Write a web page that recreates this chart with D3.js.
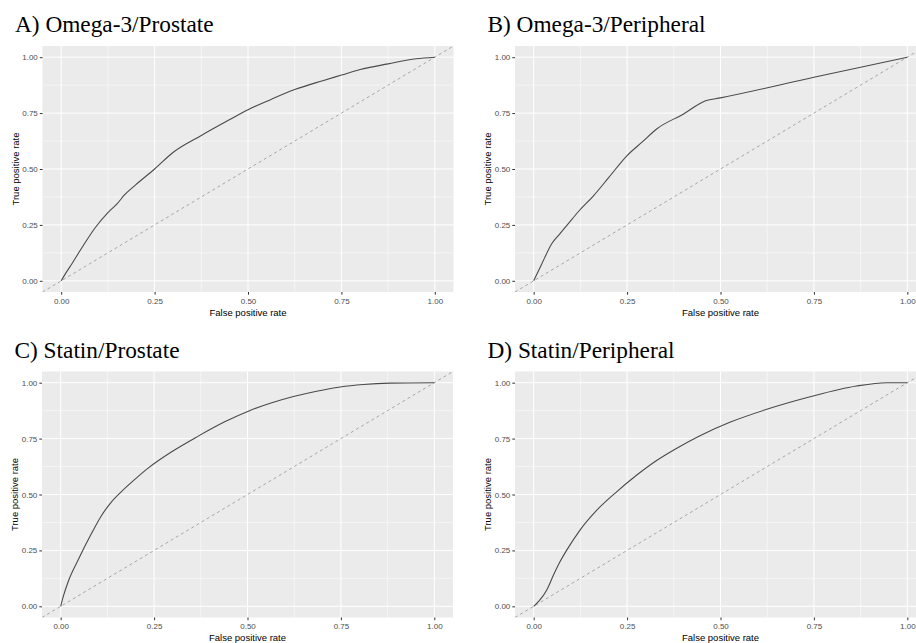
<!DOCTYPE html>
<html>
<head>
<meta charset="utf-8">
<script src="https://cdn.jsdelivr.net/npm/d3@7"></script>
<style>
  body { margin: 0; background: #fff; }
  svg { display: block; }
</style>
</head>
<body>
<div id="chart"></div>
<script>
// tick values shared by both axes of every panel
const ticks = [0, 0.25, 0.5, 0.75, 1];
const minorTicks = [0.125, 0.375, 0.625, 0.875];

const panelTitles = ['A) Omega-3/Prostate', 'B) Omega-3/Peripheral', 'C) Statin/Prostate', 'D) Statin/Peripheral'];

// ROC curves: [false positive rate, true positive rate]
const rocA = [[0,0],[0.007,0.02],[0.03,0.08],[0.06,0.16],[0.09,0.235],[0.125,0.305],[0.15,0.345],[0.17,0.385],[0.2,0.43],
  [0.25,0.5],[0.3,0.575],[0.375,0.65],[0.45,0.72],[0.5,0.765],[0.56,0.81],[0.625,0.855],[0.7,0.895],[0.75,0.92],
  [0.8,0.945],[0.875,0.97],[0.95,0.993],[1,1]];
const rocB = [[0,0],[0.02,0.07],[0.05,0.17],[0.07,0.21],[0.09,0.25],[0.12,0.31],[0.16,0.38],[0.2,0.46],[0.25,0.56],
  [0.29,0.62],[0.33,0.68],[0.4,0.745],[0.46,0.805],[0.5,0.818],[0.75,0.91],[1,1]];
const rocC = [[0,0],[0.008,0.05],[0.02,0.11],[0.046,0.205],[0.082,0.324],[0.109,0.405],[0.135,0.465],[0.162,0.512],
  [0.2,0.57],[0.234,0.618],[0.296,0.69],[0.367,0.76],[0.439,0.825],[0.507,0.876],[0.565,0.91],[0.623,0.938],
  [0.685,0.962],[0.748,0.981],[0.81,0.992],[0.881,0.998],[1,1]];
const rocD = [[0,0],[0.015,0.025],[0.035,0.073],[0.053,0.14],[0.07,0.198],[0.088,0.25],[0.124,0.341],[0.169,0.43],
  [0.222,0.512],[0.276,0.587],[0.329,0.652],[0.383,0.707],[0.445,0.763],[0.525,0.823],[0.624,0.881],[0.74,0.937],
  [0.864,0.985],[0.945,1],[1,1]];

const W = 916, H = 643;
const pw = 411, ph = 246;

// panel placement
const panels = [
  { title: panelTitles[0], data: rocA, left: 42.5, top: 46 },
  { title: panelTitles[1], data: rocB, left: 515, top: 46 },
  { title: panelTitles[2], data: rocC, left: 42, top: 371.5 },
  { title: panelTitles[3], data: rocD, left: 515, top: 371.5 }
];

const svg = d3.select('#chart').append('svg')
  .attr('width', W)
  .attr('height', H);

panels.forEach((p, i) => {
  const x = d3.scaleLinear().domain([-0.05, 1.05]).range([p.left, p.left + pw]);
  const y = d3.scaleLinear().domain([-0.05, 1.05]).range([p.top + ph, p.top]);

  const g = svg.append('g').attr('class', 'panel');

  // title
  svg.append('text')
    .attr('x', p.left - 27.5)
    .attr('y', p.top - 14)
    .style('font-family', '"Liberation Serif", "Times New Roman", serif')
    .style('font-size', '23.3px')
    .style('fill', '#000')
    .text(p.title);

  g.append('clipPath').attr('id', 'clip' + i)
    .append('rect')
    .attr('x', p.left).attr('y', p.top)
    .attr('width', pw).attr('height', ph);

  g.append('rect')
    .attr('x', p.left).attr('y', p.top)
    .attr('width', pw).attr('height', ph)
    .attr('fill', '#EBEBEB');

  // minor grid
  g.selectAll('.vminor').data(minorTicks).enter().append('line')
    .attr('x1', d => x(d)).attr('x2', d => x(d))
    .attr('y1', p.top).attr('y2', p.top + ph)
    .attr('stroke', '#fff').attr('stroke-width', 0.5);
  g.selectAll('.hminor').data(minorTicks).enter().append('line')
    .attr('y1', d => y(d)).attr('y2', d => y(d))
    .attr('x1', p.left).attr('x2', p.left + pw)
    .attr('stroke', '#fff').attr('stroke-width', 0.5);

  // major grid
  g.selectAll('.vmajor').data(ticks).enter().append('line')
    .attr('x1', d => x(d)).attr('x2', d => x(d))
    .attr('y1', p.top).attr('y2', p.top + ph)
    .attr('stroke', '#fff').attr('stroke-width', 1);
  g.selectAll('.hmajor').data(ticks).enter().append('line')
    .attr('y1', d => y(d)).attr('y2', d => y(d))
    .attr('x1', p.left).attr('x2', p.left + pw)
    .attr('stroke', '#fff').attr('stroke-width', 1);

  const plot = g.append('g').attr('clip-path', 'url(#clip' + i + ')');

  // reference diagonal
  plot.append('line')
    .attr('x1', x(-0.05)).attr('y1', y(-0.05))
    .attr('x2', x(1.05)).attr('y2', y(1.05))
    .attr('stroke', '#a6a6a6')
    .attr('stroke-width', 1)
    .attr('stroke-dasharray', '3,3');

  const line = d3.line()
    .x(d => x(d[0]))
    .y(d => y(d[1]))
    .curve(d3.curveMonotoneX);

  plot.append('path')
    .datum(p.data)
    .attr('d', line)
    .attr('fill', 'none')
    .attr('stroke', '#4a4a4a')
    .attr('stroke-width', 1.1);

  // axes
  const xAxis = g.append('g')
    .attr('transform', `translate(0,${p.top + ph})`)
    .call(d3.axisBottom(x).tickValues(ticks).tickFormat(d3.format('.2f')).tickSize(2.7).tickPadding(3.5));
  const yAxis = g.append('g')
    .attr('transform', `translate(${p.left},0)`)
    .call(d3.axisLeft(y).tickValues(ticks).tickFormat(d3.format('.2f')).tickSize(2.7).tickPadding(2));

  [xAxis, yAxis].forEach(a => {
    a.select('.domain').remove();
    a.selectAll('line').attr('stroke', '#333');
    a.selectAll('text')
      .style('font-family', '"Liberation Sans", Arial, sans-serif')
      .style('font-size', '8px')
      .attr('fill', '#4D4D4D');
  });

  g.append('text')
    .attr('x', (x(0) + x(1)) / 2)
    .attr('y', p.top + ph + 23.5)
    .attr('text-anchor', 'middle')
    .style('font-family', '"Liberation Sans", Arial, sans-serif')
    .style('font-size', '9.5px')
    .text('False positive rate');

  g.append('text')
    .attr('transform', `translate(${p.left - 24},${(y(0) + y(1)) / 2}) rotate(-90)`)
    .attr('text-anchor', 'middle')
    .style('font-family', '"Liberation Sans", Arial, sans-serif')
    .style('font-size', '9.5px')
    .text('True positive rate');
});
</script>
</body>
</html>
